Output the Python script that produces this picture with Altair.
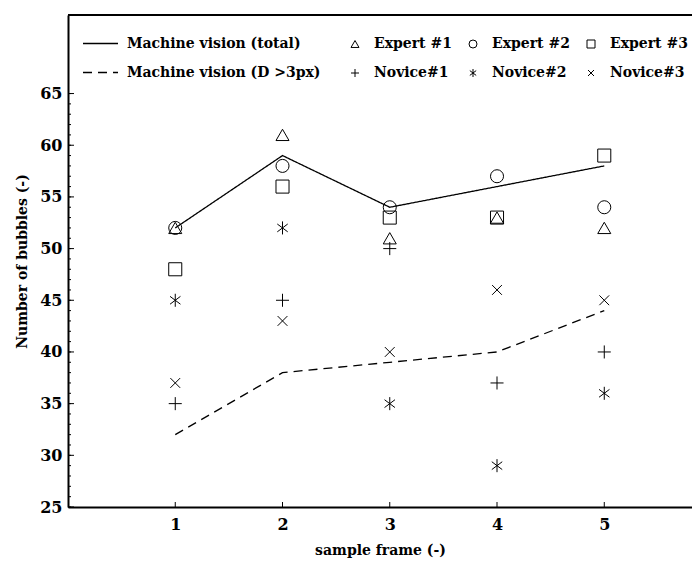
import altair as alt
import pandas as pd

# ---- data ----
frames = [1, 2, 3, 4, 5]
mv_total = [52, 59, 54, 56, 58]
mv_d3 = [32, 38, 39, 40, 44]
expert1 = [52, 61, 51, 53, 52]
expert2 = [52, 58, 54, 57, 54]
expert3 = [48, 56, 53, 53, 59]
novice1 = [35, 45, 50, 37, 40]
novice2 = [45, 52, 35, 29, 36]
novice3 = [37, 43, 40, 46, 45]

line_names = ["Machine vision (total)", "Machine vision (D >3px)"]
point_names = ["Expert #1", "Expert #2", "Expert #3", "Novice#1", "Novice#2", "Novice#3"]

y_labels = [25, 30, 35, 40, 45, 50, 55, 60, 65]
y_minor = list(range(25, 66))
x_labels = [1, 2, 3, 4, 5]

# ---- tables ----
line_df = pd.DataFrame(
    [{"frame": f, "value": v, "series": line_names[0]} for f, v in zip(frames, mv_total)]
    + [{"frame": f, "value": v, "series": line_names[1]} for f, v in zip(frames, mv_d3)]
)
pt_rows = []
for name, vals in zip(point_names, [expert1, expert2, expert3, novice1, novice2, novice3]):
    for f, v in zip(frames, vals):
        pt_rows.append({"frame": f, "value": v, "series": name})
pt_df = pd.DataFrame(pt_rows)

ymaj_df = pd.DataFrame({"v": y_labels})
ymin_df = pd.DataFrame({"v": y_minor})
xt_df = pd.DataFrame({"v": x_labels})

FONT = "DejaVu Serif"
W, H = 624, 492

xscale = alt.Scale(domain=[0, 5.818], nice=False, zero=False)
yscale = alt.Scale(domain=[25, 72.6], nice=False, zero=False)

x_axis = alt.Axis(values=x_labels, ticks=False, domain=True, grid=False,
                  labelPadding=9, title="sample frame (-)", titlePadding=11,
                  format="d", labelFontSize=16)
y_axis = alt.Axis(values=y_labels, ticks=False, domain=True, grid=False,
                  labelPadding=6, title="Number of bubbles (-)", titlePadding=10,
                  format="d", labelFontSize=16)

lines = alt.Chart(line_df).mark_line(color="black", strokeWidth=1.3).encode(
    x=alt.X("frame:Q", scale=xscale, axis=x_axis),
    y=alt.Y("value:Q", scale=yscale, axis=y_axis),
    strokeDash=alt.StrokeDash(
        "series:N",
        scale=alt.Scale(domain=line_names, range=[[1, 0], [9, 6]]),
        sort=line_names,
        legend=alt.Legend(orient="none", legendX=14, legendY=10, title=None,
                          symbolType="stroke", symbolSize=1225,
                          symbolStrokeWidth=1.3, symbolStrokeColor="black",
                          labelOffset=8, rowPadding=3, padding=0, labelLimit=400),
    ),
    detail="series:N",
)

shapes = [
    "triangle-up",
    "circle",
    "square",
    "M-1,0L1,0M0,-1L0,1",
    "M0,-1L0,1M-0.8,-0.6L0.8,0.6M-0.8,0.6L0.8,-0.6",
    "M-0.75,-0.75L0.75,0.75M-0.75,0.75L0.75,-0.75",
]

points = alt.Chart(pt_df).mark_point(filled=False, color="black", strokeWidth=1, size=170, opacity=1).encode(
    x=alt.X("frame:Q", scale=xscale),
    y=alt.Y("value:Q", scale=yscale),
    shape=alt.Shape(
        "series:N",
        scale=alt.Scale(domain=point_names, range=shapes),
        sort=point_names,
        legend=alt.Legend(orient="none", legendX=280, legendY=22, title=None,
                          columns=3, direction="horizontal",
                          symbolSize=64, symbolStrokeColor="black",
                          symbolFillColor="transparent", symbolStrokeWidth=1,
                          labelOffset=12, columnPadding=14, rowPadding=15,
                          padding=0, labelLimit=300),
    ),
)

ymaj = alt.Chart(ymaj_df).mark_rule(color="black", strokeWidth=1).encode(
    y=alt.Y("v:Q", scale=yscale), x=alt.value(0), x2=alt.value(6)
)
ymin = alt.Chart(ymin_df).mark_rule(color="black", strokeWidth=1).encode(
    y=alt.Y("v:Q", scale=yscale), x=alt.value(0), x2=alt.value(3)
)
xt = alt.Chart(xt_df).mark_rule(color="black", strokeWidth=1).encode(
    x=alt.X("v:Q", scale=xscale), y=alt.value(H), y2=alt.value(H - 5)
)
top_border = alt.Chart(xt_df).mark_rule(color="black", strokeWidth=2).encode(
    x=alt.value(0), x2=alt.value(W), y=alt.value(0)
)

chart = alt.layer(ymin, ymaj, xt, top_border, lines, points).properties(
    width=W, height=H,
    autosize=alt.AutoSizeParams(type="none"),
    padding={"left": 60, "top": 7, "right": 0, "bottom": 54},
).configure_view(
    stroke=None
).configure_axis(
    labelFont=FONT, labelFontSize=16, labelFontWeight="bold", labelColor="black",
    titleFont=FONT, titleFontSize=14, titleFontWeight="bold", titleColor="black",
    domainColor="black", domainWidth=2,
).configure_legend(
    labelFont=FONT, labelFontSize=14, labelFontWeight="bold", labelColor="black",
)

chart.save("out.html", embed_options={"renderer": "svg", "actions": False})
